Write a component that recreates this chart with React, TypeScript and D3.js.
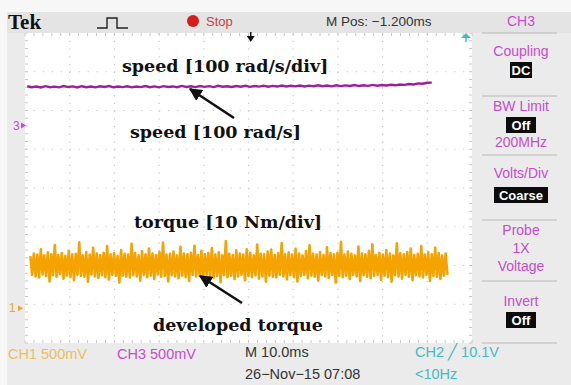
import React, { useEffect } from 'react'
import * as d3 from 'd3'

// speed trace, rad/s (CH3, 100 rad/s per div)
const speedValues = [
  101.5, 99, 101, 98.5, 101.8, 99.2, 100.6, 98.8, 102, 99.5, 101.2, 98.6, 101.7, 99.1, 100.9, 98.7, 101.4, 99.6, 102.2, 98.9,
  101, 99.3, 101.6, 98.8, 100.8, 99.4, 102.1, 99, 101.3, 98.7, 101.9, 99.6, 101.1, 99.2, 102.4, 99.8, 101.5, 99.3, 102, 100,
  101.8, 99.5, 102.6, 100.2, 101.7, 99.8, 102.3, 100.4, 102.9, 100.1, 102.2, 100.6, 103.1, 100.3, 102.5, 100.8, 103.4, 100.9, 102.8, 101.2,
  103.6, 101, 103.2, 101.5, 104, 101.8, 103.5, 101.3, 104.2, 102, 103.8, 102.4, 104.6, 102.1, 104.3, 102.7, 105, 103.1, 104.8, 103.6,
  105.6, 104, 106.2, 105.1, 107.4, 106.3, 108.9, 108, 110.5, 111
]

// developed torque samples, Nm (CH1, 10 Nm per div)
const torqueValues = [
  13.4, 8.6, 14.1, 8.2, 13.8, 7.9, 15.2, 8.7, 13.6, 8.3, 14.4, 6.9, 13.9, 8.5, 16.3, 8.1, 13.7, 8.8, 14.2, 7.6,
  13.5, 8.4, 14.8, 8.0, 13.9, 7.2, 14.0, 8.6, 17.0, 8.3, 13.6, 8.1, 14.5, 6.8, 13.8, 8.7, 15.6, 8.2, 14.1, 7.8,
  13.7, 8.5, 14.3, 8.0, 16.0, 7.4, 13.9, 8.6, 14.2, 8.3, 13.5, 6.6, 15.0, 8.4, 14.0, 8.1, 13.8, 7.9, 16.6, 8.5,
  14.2, 8.2, 13.6, 7.1, 14.7, 8.6, 13.9, 8.0, 15.4, 8.4, 14.1, 7.5, 13.7, 8.7, 14.5, 8.1, 16.9, 8.3, 13.8, 6.9,
  14.0, 8.5, 14.6, 8.2, 13.6, 7.7, 15.8, 8.4, 14.1, 8.0, 13.9, 7.0, 14.3, 8.6, 16.1, 8.2, 13.7, 8.4, 14.8, 7.3,
  13.9, 8.6, 14.2, 8.1, 15.5, 7.8, 13.8, 8.3, 14.4, 6.7, 13.6, 8.5, 17.3, 8.0, 14.0, 8.4, 13.7, 7.5, 14.9, 8.2,
  14.1, 8.6, 13.8, 7.2, 15.2, 8.3, 14.3, 8.0, 13.6, 8.5, 16.4, 7.6, 14.0, 8.2, 13.9, 6.8, 14.6, 8.4, 15.1, 8.1,
  13.7, 7.9, 14.2, 8.6, 16.8, 8.2, 13.9, 7.4, 14.4, 8.5, 13.8, 8.0, 15.3, 6.9, 14.1, 8.3, 13.6, 8.6, 14.7, 7.7,
  16.2, 8.4, 14.0, 8.1, 13.8, 7.1, 14.5, 8.5, 13.7, 8.2, 15.7, 7.8, 14.2, 8.6, 13.9, 6.6, 14.3, 8.3, 17.1, 8.0,
  13.8, 8.4, 14.6, 7.5, 14.0, 8.6, 13.6, 8.2, 15.9, 7.0, 14.1, 8.5, 13.9, 8.1, 14.8, 7.7, 16.5, 8.3, 13.7, 8.6,
  14.3, 7.3, 13.8, 8.4, 15.0, 8.0, 14.1, 6.8, 13.6, 8.5, 16.7, 8.2, 14.2, 7.6, 13.9, 8.6, 14.5, 8.1, 15.4, 7.2,
  13.7, 8.5, 14.0, 8.2, 16.0, 7.9, 13.8, 8.6, 14.4, 7.0, 13.9, 8.3, 15.6, 8.1, 14.2, 7.5, 13.6, 8.4, 14.1, 8.6
]

const ch3Ground = 1.61 // div
const ch1Ground = -3.1 // div

// side menu: [text, baseline y, kind]
const menuLines: [string, number, 'label' | 'box'][] = [
  ['Coupling', 56, 'label'],
  ['DC', 75, 'box'],
  ['BW Limit', 111, 'label'],
  ['Off', 130, 'box'],
  ['200MHz', 147, 'label'],
  ['Volts/Div', 178, 'label'],
  ['Coarse', 200, 'box'],
  ['Probe', 235, 'label'],
  ['1X', 253, 'label'],
  ['Voltage', 271, 'label'],
  ['Invert', 306, 'label'],
  ['Off', 325, 'box']
]
const menuSeparators = [33, 96, 155, 220, 281, 343]

const W = 571
const H = 385
const x = d3.scaleLinear().domain([0, 10]).range([25, 472])
const y = d3.scaleLinear().domain([-4, 4]).range([343, 33])

const purple = '#9c1f9c'
const menuPurple = '#c64ccb'
const orange = '#f5a300'
const teal = '#3fbcc4'
const sans = 'Liberation Sans, Arial, sans-serif'
const serif = 'DejaVu Serif, serif'

const App: React.FC = () => {
  useEffect(() => {
    document.body.style.margin = '0'
  }, [])

  const speedStep = (9.1 - 0.05) / (speedValues.length - 1)
  const speedLine = d3.line<number>()
    .x((_, i) => x(0.05 + i * speedStep))
    .y(v => y(ch3Ground + v / 100))

  const tStep = (9.45 - 0.12) / (torqueValues.length - 1)
  const torqueLine = d3.line<number>()
    .x((_, i) => x(0.12 + i * tStep))
    .y(v => y(ch1Ground + v / 10))

  const minor = (x(1) - x(0)) / 5
  const minorY = (y(0) - y(1)) / 5

  return (
    <svg width={W} height={H} style={{ display: 'block' }}>
      <defs>
        <marker id="ah" viewBox="0 0 10 10" refX="9" refY="5" markerWidth="5" markerHeight="5" orient="auto">
          <path d="M0,0 L10,5 L0,10 z" fill="#111" />
        </marker>
      </defs>
      <rect width={W} height={H} fill="#ebebeb" />
      <rect width={W} height={12} fill="#f7f7f7" />
      <rect width={7} height={H} fill="#f7f7f7" />
      {/* plot area */}
      <rect x={x(0)} y={y(4)} width={x(10) - x(0)} height={y(-4) - y(4)} fill="#fff" />
      {d3.range(1, 10).map(i => (
        <line key={'v' + i} x1={x(i)} x2={x(i)} y1={y(4)} y2={y(-4)} stroke="#c8c8c8" strokeWidth={1.2}
          strokeDasharray={`1.2,${minorY - 1.2}`} />
      ))}
      {d3.range(-3, 4).map(i => (
        <line key={'h' + i} x1={x(0)} x2={x(10)} y1={y(i)} y2={y(i)} stroke="#c8c8c8" strokeWidth={1.2}
          strokeDasharray={`1.2,${minor - 1.2}`} />
      ))}
      {/* border ticks */}
      {d3.range(0, 51).map(i => (
        <g key={'bt' + i}>
          <line x1={x(0) + i * minor} x2={x(0) + i * minor} y1={y(4)} y2={y(4) + 3} stroke="#c8c8c8" />
          <line x1={x(0) + i * minor} x2={x(0) + i * minor} y1={y(-4)} y2={y(-4) - 3} stroke="#c8c8c8" />
        </g>
      ))}
      {d3.range(0, 41).map(i => (
        <g key={'bl' + i}>
          <line x1={x(0)} x2={x(0) + 3} y1={y(4) + i * minorY} y2={y(4) + i * minorY} stroke="#c8c8c8" />
          <line x1={x(10)} x2={x(10) - 3} y1={y(4) + i * minorY} y2={y(4) + i * minorY} stroke="#c8c8c8" />
        </g>
      ))}

      {/* traces */}
      <path d={torqueLine(torqueValues) || ''} fill="none" stroke={orange} strokeWidth={2.6} strokeLinejoin="round" />
      <path d={speedLine(speedValues) || ''} fill="none" stroke={purple} strokeWidth={2.4} />

      {/* ground markers */}
      <text x={13} y={y(ch3Ground) + 4} fontFamily={sans} fontSize={12} fill={menuPurple}>3</text>
      <path d={`M21,${y(ch3Ground) - 3} L26,${y(ch3Ground)} L21,${y(ch3Ground) + 3}z`} fill={menuPurple} />
      <text x={9} y={y(ch1Ground) + 4} fontFamily={sans} fontSize={12} fill="#e8a838">1</text>
      <path d={`M18,${y(ch1Ground) - 3} L23,${y(ch1Ground)} L18,${y(ch1Ground) + 3}z`} fill="#e8a838" />

      {/* annotations */}
      <g fontFamily={serif} fontWeight="bold" fontSize={17.5} fill="#111">
        <text x={122} y={72}>speed [100 rad/s/div]</text>
        <text x={130} y={138}>speed [100 rad/s]</text>
        <text x={134} y={228}>torque [10 Nm/div]</text>
        <text x={153} y={331}>developed torque</text>
      </g>
      <line x1={234} y1={118} x2={190} y2={89} stroke="#111" strokeWidth={2.6} markerEnd="url(#ah)" />
      <line x1={242} y1={303} x2={200} y2={276} stroke="#111" strokeWidth={2.6} markerEnd="url(#ah)" />

      {/* top bar */}
      <rect x={7} y={12} width={W - 7} height={21} fill="#e4e4e4" />
      <text x={8} y={29} fontFamily="Liberation Serif, serif" fontWeight="bold" fontSize={21} fill="#111">Tek</text>
      <path d="M97,28 L107,28 L107,18 L117,18 L117,28 L128,28" fill="none" stroke="#222" strokeWidth={1.4} />
      <circle cx={193} cy={21} r={6} fill="#d41e1e" />
      <text x={206} y={26} fontFamily={sans} fontSize={13} fill="#d03c3c">Stop</text>
      <text x={326} y={26} fontFamily={sans} fontSize={13.5} fill="#333">M Pos: −1.200ms</text>
      <text x={521} y={26} textAnchor="middle" fontFamily={sans} fontSize={14} fill={menuPurple}>CH3</text>
      <path d={`M${x(5.05)},42 L${x(5.05) - 4},36 L${x(5.05) + 4},36 z`} fill="#111" />
      <line x1={x(5.05)} x2={x(5.05)} y1={32} y2={37} stroke="#111" strokeWidth={1.5} />
      <path d="M466,33 L461,38 L471,38 z" fill={teal} />
      <line x1={466} x2={466} y1={37} y2={42} stroke={teal} strokeWidth={1.5} />

      {/* side menu */}
      {menuSeparators.map((s, i) => (
        <line key={'sep' + i} x1={482} x2={557} y1={s} y2={s} stroke="#b8b8b8" />
      ))}
      {menuLines.map(([t, by, kind], i) => {
        if (kind === 'box') {
          const w = t.length * 8 + 6
          return (
            <g key={'ml' + i}>
              <rect x={521 - w / 2} y={by - 13} width={w} height={16} fill="#0c0c0c" />
              <text x={521} y={by} textAnchor="middle" fontFamily={sans} fontWeight="bold" fontSize={13} fill="#fff">{t}</text>
            </g>
          )
        }
        return <text key={'ml' + i} x={521} y={by} textAnchor="middle" fontFamily={sans} fontSize={14} fill={menuPurple}>{t}</text>
      })}

      {/* bottom status */}
      <g fontFamily={sans} fontSize={14.5}>
        <text x={8} y={359} fill="#e9bf62">CH1  500mV</text>
        <text x={117} y={359} fill={menuPurple}>CH3  500mV</text>
        <text x={245} y={357} fill="#333">M 10.0ms</text>
        <text x={245} y={379} fill="#333">26−Nov−15 07:08</text>
        <text x={415} y={357} fill={teal}>CH2 ╱ 10.1V</text>
        <text x={415} y={379} fill={teal}>&lt;10Hz</text>
      </g>
    </svg>
  )
}

export default App
